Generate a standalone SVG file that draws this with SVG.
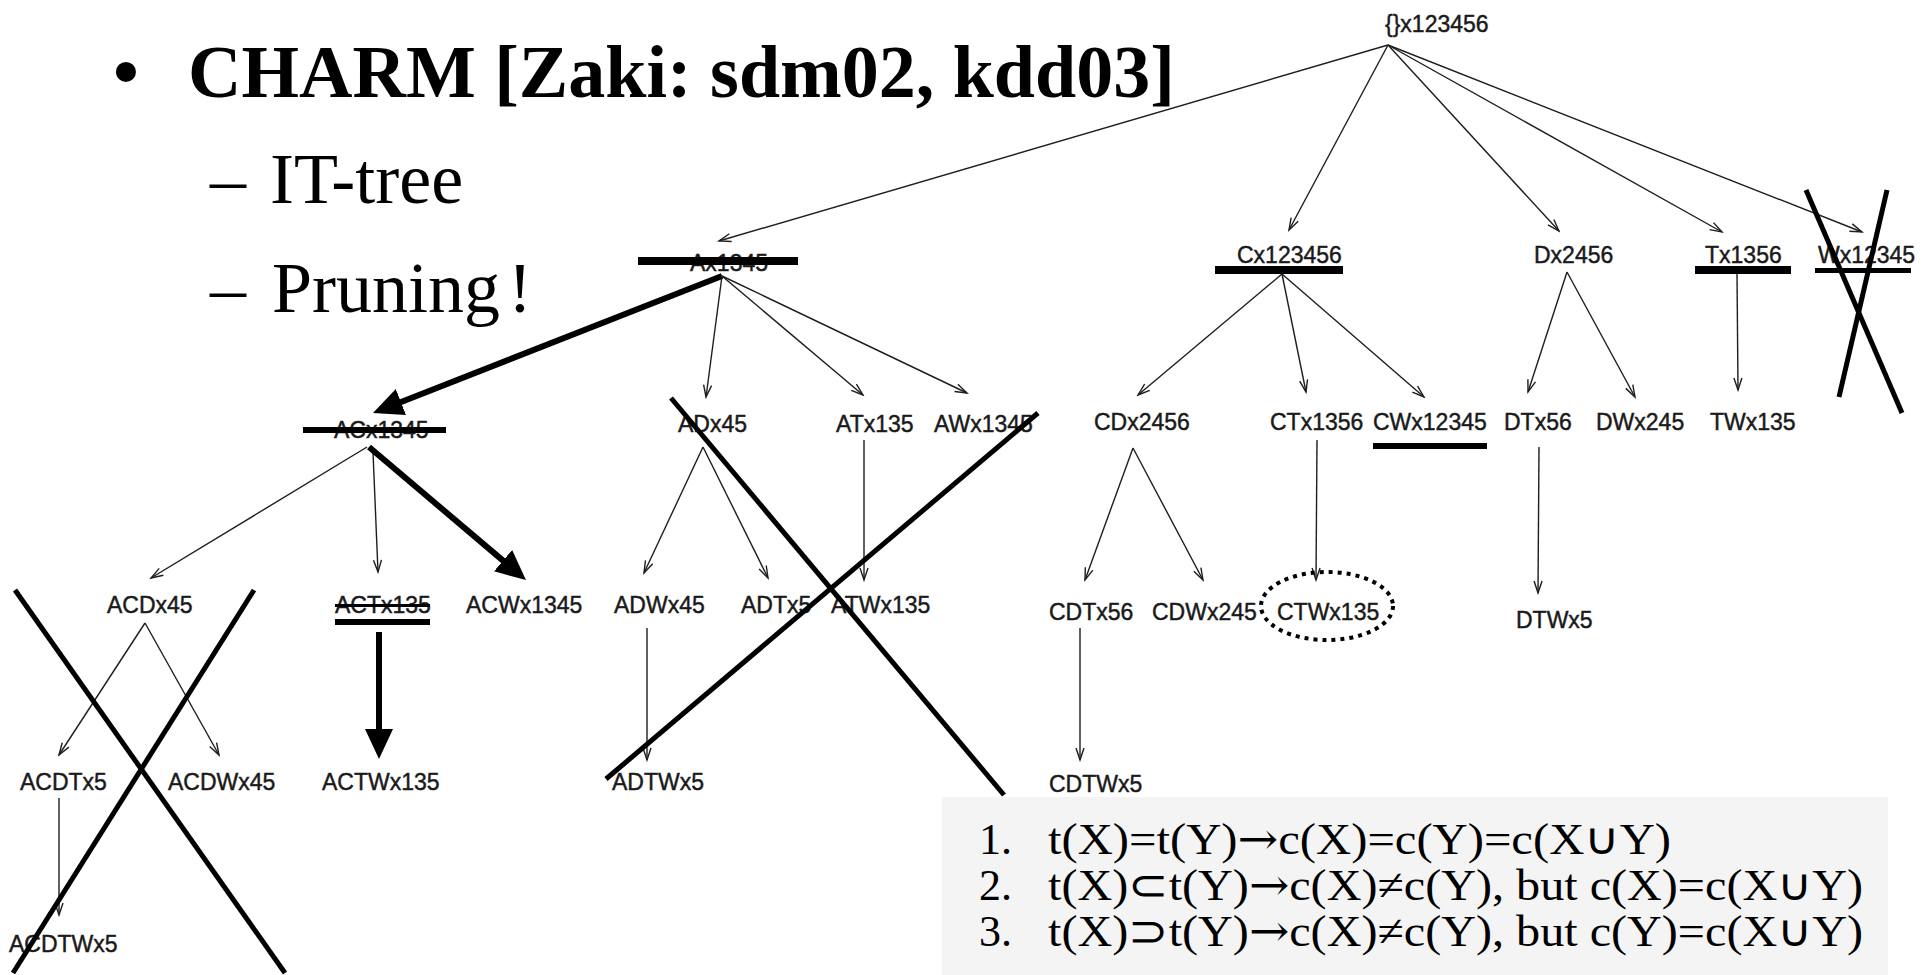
<svg xmlns="http://www.w3.org/2000/svg" width="1932" height="975" viewBox="0 0 1932 975">
  <style>
    .title { font-family: "Liberation Serif", "Times New Roman", serif; font-weight: bold; font-size: 74px; fill: #000; }
    .sub { font-family: "Liberation Serif", "Times New Roman", serif; font-size: 72px; fill: #000; }
    .lbl { font-family: "Liberation Sans", Arial, sans-serif; font-size: 23px; fill: #1a1a1a; stroke: #1a1a1a; stroke-width: 0.45; }
    .rule { font-family: "Liberation Serif", "Times New Roman", serif; font-size: 44px; fill: #000; }
    .sym { font-family: "DejaVu Serif", serif; }
    .edge { fill: none; stroke: #1e1e1e; stroke-width: 1.4; }
    .bold-edge { fill: none; stroke: #000; stroke-width: 6; }
    .bar { fill: #000; }
    .cross { stroke: #000; stroke-width: 5; stroke-linecap: butt; }
  </style>
  <defs>
    <marker id="open" markerUnits="userSpaceOnUse" markerWidth="16" markerHeight="12" refX="14" refY="6" orient="auto">
      <path d="M2,2 L14,6 L2,10" fill="none" stroke="#1e1e1e" stroke-width="1.4"/>
    </marker>
    <marker id="solid" markerUnits="userSpaceOnUse" markerWidth="32" markerHeight="30" refX="10" refY="14" orient="auto">
      <path d="M0,0 L30,14 L0,28 z" fill="#000"/>
    </marker>
  </defs>

  <rect width="1932" height="975" fill="#fff"/>

  <!-- slide bullets -->
  <g id="heading">
    <text class="title" x="113" y="97">•</text>
    <text class="title" x="188" y="97">CHARM [Zaki: sdm02, kdd03]</text>
    <text class="sub" x="210" y="203">–</text>
    <text class="sub" x="270" y="203">IT-tree</text>
    <text class="sub" x="210" y="312">–</text>
    <text class="sub" x="272" y="312">Pruning<tspan dx="8">!</tspan></text>
  </g>

  <!-- rules box -->
  <g id="rules">
    <rect x="942" y="797" width="946" height="178" fill="#f4f4f4"/>
    <text class="rule" x="979" y="854">1.</text>
    <text class="rule" x="1048" y="854" textLength="623" lengthAdjust="spacingAndGlyphs">t(X)=t(Y)<tspan class="sym">→</tspan>c(X)=c(Y)=c(X∪Y)</text>
    <text class="rule" x="979" y="900">2.</text>
    <text class="rule" x="1048" y="900" textLength="815" lengthAdjust="spacingAndGlyphs">t(X)⊂t(Y)<tspan class="sym">→</tspan>c(X)≠c(Y), but c(X)=c(X∪Y)</text>
    <text class="rule" x="979" y="946">3.</text>
    <text class="rule" x="1048" y="946" textLength="815" lengthAdjust="spacingAndGlyphs">t(X)⊃t(Y)<tspan class="sym">→</tspan>c(X)≠c(Y), but c(Y)=c(X∪Y)</text>
  </g>

  <!-- tree edges -->
  <g id="connectors">
    <path class="edge" marker-end="url(#open)" d="M1388,45 L719,241"/>
    <path class="edge" marker-end="url(#open)" d="M1388,45 L1289,230"/>
    <path class="edge" marker-end="url(#open)" d="M1388,45 L1559,231"/>
    <path class="edge" marker-end="url(#open)" d="M1388,45 L1722,232"/>
    <path class="edge" marker-end="url(#open)" d="M1388,45 L1862,232"/>

    <path class="bold-edge" marker-end="url(#solid)" d="M722,276 L391.6,405.7"/>
    <path class="edge" marker-end="url(#open)" d="M722,276 L706,397"/>
    <path class="edge" marker-end="url(#open)" d="M722,276 L863,395"/>
    <path class="edge" marker-end="url(#open)" d="M722,276 L967,393"/>

    <path class="edge" marker-end="url(#open)" d="M1282,274 L1138,395"/>
    <path class="edge" marker-end="url(#open)" d="M1282,274 L1306,392"/>
    <path class="edge" marker-end="url(#open)" d="M1282,274 L1424,397"/>

    <path class="edge" marker-end="url(#open)" d="M1567,272 L1528,392"/>
    <path class="edge" marker-end="url(#open)" d="M1567,272 L1635,397"/>

    <path class="edge" marker-end="url(#open)" d="M1737,273 L1738,390"/>

    <path class="edge" marker-end="url(#open)" d="M367,447 L151,578"/>
    <path class="edge" marker-end="url(#open)" d="M373,452 L378,572"/>
    <path class="bold-edge" marker-end="url(#solid)" d="M369,447 L510.7,567.1"/>

    <path class="edge" marker-end="url(#open)" d="M703,447 L644,573"/>
    <path class="edge" marker-end="url(#open)" d="M703,447 L768,578"/>
    <path class="edge" marker-end="url(#open)" d="M864,440 L864,580"/>

    <path class="edge" marker-end="url(#open)" d="M1133,448 L1085,580"/>
    <path class="edge" marker-end="url(#open)" d="M1133,448 L1203,580"/>
    <path class="edge" marker-end="url(#open)" d="M1317,440 L1316,580"/>
    <path class="edge" marker-end="url(#open)" d="M1539,447 L1538,593"/>

    <path class="edge" marker-end="url(#open)" d="M145,623 L59,755"/>
    <path class="edge" marker-end="url(#open)" d="M145,623 L219,755"/>
    <path class="bold-edge" marker-end="url(#solid)" d="M379,632 L379,739"/>
    <path class="edge" marker-end="url(#open)" d="M647,628 L647,760"/>
    <path class="edge" marker-end="url(#open)" d="M1080,628 L1080,760"/>

    <path class="edge" marker-end="url(#open)" d="M59,798 L59,915"/>
  </g>

  <!-- level 0 -->
  <g id="n-root"><text class="lbl" x="1385" y="32">{}x123456</text></g>

  <!-- level 1 -->
  <g id="n-A">
    <text class="lbl" x="690" y="271">Ax1345</text>
    <rect class="bar" x="638" y="257" width="160" height="8"/>
  </g>
  <g id="n-C">
    <text class="lbl" x="1237" y="263">Cx123456</text>
    <rect class="bar" x="1215" y="266" width="128" height="8"/>
  </g>
  <g id="n-D"><text class="lbl" x="1534" y="263">Dx2456</text></g>
  <g id="n-T">
    <text class="lbl" x="1705" y="263">Tx1356</text>
    <rect class="bar" x="1695" y="266" width="96" height="8"/>
  </g>
  <g id="n-W">
    <text class="lbl" x="1818" y="263">Wx12345</text>
    <rect class="bar" x="1815" y="268" width="96" height="5"/>
  </g>

  <!-- level 2 -->
  <g id="n-AC">
    <text class="lbl" x="334" y="438">ACx1345</text>
    <rect class="bar" x="303" y="427" width="143" height="6"/>
  </g>
  <g id="n-AD"><text class="lbl" x="678" y="432">ADx45</text></g>
  <g id="n-AT"><text class="lbl" x="836" y="432">ATx135</text></g>
  <g id="n-AW"><text class="lbl" x="934" y="432">AWx1345</text></g>
  <g id="n-CD"><text class="lbl" x="1094" y="430">CDx2456</text></g>
  <g id="n-CT"><text class="lbl" x="1270" y="430">CTx1356</text></g>
  <g id="n-CW">
    <text class="lbl" x="1373" y="430">CWx12345</text>
    <rect class="bar" x="1373" y="443" width="114" height="6"/>
  </g>
  <g id="n-DT"><text class="lbl" x="1504" y="430">DTx56</text></g>
  <g id="n-DW"><text class="lbl" x="1596" y="430">DWx245</text></g>
  <g id="n-TW"><text class="lbl" x="1710" y="430">TWx135</text></g>

  <!-- level 3 -->
  <g id="n-ACD"><text class="lbl" x="107" y="613">ACDx45</text></g>
  <g id="n-ACT">
    <text class="lbl" x="335" y="613">ACTx135</text>
    <rect class="bar" x="335" y="604" width="95" height="3"/>
    <rect class="bar" x="335" y="619" width="95" height="6"/>
  </g>
  <g id="n-ACW"><text class="lbl" x="466" y="613">ACWx1345</text></g>
  <g id="n-ADW"><text class="lbl" x="614" y="613">ADWx45</text></g>
  <g id="n-ADT"><text class="lbl" x="741" y="613">ADTx5</text></g>
  <g id="n-ATW"><text class="lbl" x="831" y="613">ATWx135</text></g>
  <g id="n-CDT"><text class="lbl" x="1049" y="620">CDTx56</text></g>
  <g id="n-CDW"><text class="lbl" x="1152" y="620">CDWx245</text></g>
  <g id="n-CTW">
    <text class="lbl" x="1277" y="620">CTWx135</text>
    <ellipse cx="1327" cy="606" rx="66" ry="34" fill="none" stroke="#000" stroke-width="4" stroke-dasharray="4 5"/>
  </g>
  <g id="n-DTW"><text class="lbl" x="1516" y="628">DTWx5</text></g>

  <!-- level 4 -->
  <g id="n-ACDT"><text class="lbl" x="20" y="790">ACDTx5</text></g>
  <g id="n-ACDW"><text class="lbl" x="168" y="790">ACDWx45</text></g>
  <g id="n-ACTW"><text class="lbl" x="322" y="790">ACTWx135</text></g>
  <g id="n-ADTW"><text class="lbl" x="612" y="790">ADTWx5</text></g>
  <g id="n-CDTW"><text class="lbl" x="1049" y="792">CDTWx5</text></g>

  <!-- level 5 -->
  <g id="n-ACDTW"><text class="lbl" x="9" y="952">ACDTWx5</text></g>

  <!-- pruned branches -->
  <g id="pruned">
    <line class="cross" x1="15" y1="590" x2="285" y2="973"/>
    <line class="cross" x1="254" y1="590" x2="13" y2="973"/>
    <line class="cross" x1="671" y1="398" x2="1004" y2="795"/>
    <line class="cross" x1="1038" y1="413" x2="606" y2="779"/>
    <line class="cross" x1="1806" y1="190" x2="1902" y2="413"/>
    <line class="cross" x1="1887" y1="190" x2="1839" y2="397"/>
  </g>
</svg>
